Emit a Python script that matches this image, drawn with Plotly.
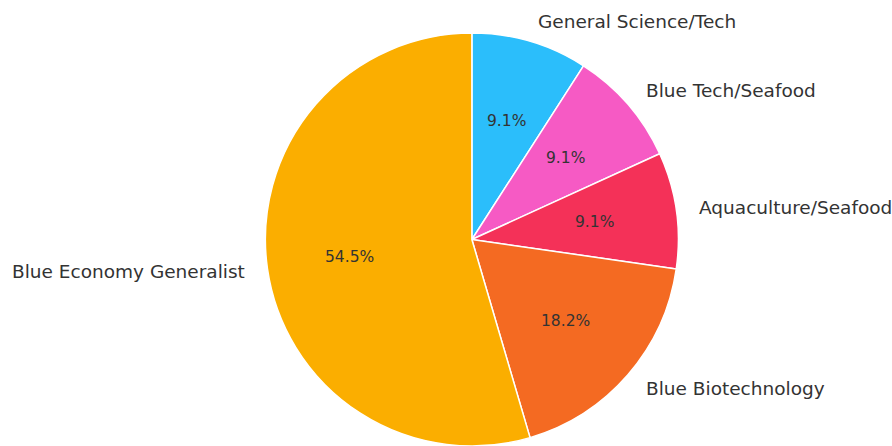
import math
import plotly.graph_objects as go

labels = ["General Science/Tech", "Blue Tech/Seafood", "Aquaculture/Seafood",
          "Blue Biotechnology", "Blue Economy Generalist"]
values = [1, 1, 1, 2, 6]
colors = ["#2BBEFB", "#F65AC4", "#F43158", "#F46A22", "#FBAE00"]

W, H = 892, 446
dom_y = [0.0, 0.926]
dom_x = [0.29, 0.768]
cx = (dom_x[0] + dom_x[1]) / 2 * W
r = (dom_y[1] - dom_y[0]) * H / 2
cy = H - (dom_y[0] + dom_y[1]) / 2 * H

fig = go.Figure(go.Pie(
    labels=labels, values=values, sort=False, direction="clockwise", rotation=0,
    marker=dict(colors=colors, line=dict(color="white", width=1.5)),
    textinfo="none", hoverinfo="label+percent", showlegend=False,
    domain=dict(x=dom_x, y=dom_y),
))

total = sum(values)
ann = []
start = 90.0
for lab, v in zip(labels, values):
    span = v / total * 360
    mid = math.radians(start - span / 2)
    start -= span
    c, s = math.cos(mid), math.sin(mid)
    lx, ly = cx + 1.1 * r * c, cy - 1.1 * r * s
    ann.append(dict(x=lx / W, y=1 - ly / H, xref="paper", yref="paper", text=lab,
                    showarrow=False, xanchor="left" if c >= 0 else "right", yanchor="middle",
                    font=dict(family="DejaVu Sans", size=18.5, color="#333333")))
    px, py = cx + 0.6 * r * c, cy - 0.6 * r * s
    ann.append(dict(x=px / W, y=1 - py / H, xref="paper", yref="paper",
                    text=f"{v / total * 100:.1f}%", showarrow=False,
                    xanchor="center", yanchor="middle",
                    font=dict(family="DejaVu Sans", size=15.5, color="#333333")))

fig.update_layout(width=W, height=H, margin=dict(l=0, r=0, t=0, b=0),
                  paper_bgcolor="white", plot_bgcolor="white", annotations=ann)
fig.write_html("out.html")
